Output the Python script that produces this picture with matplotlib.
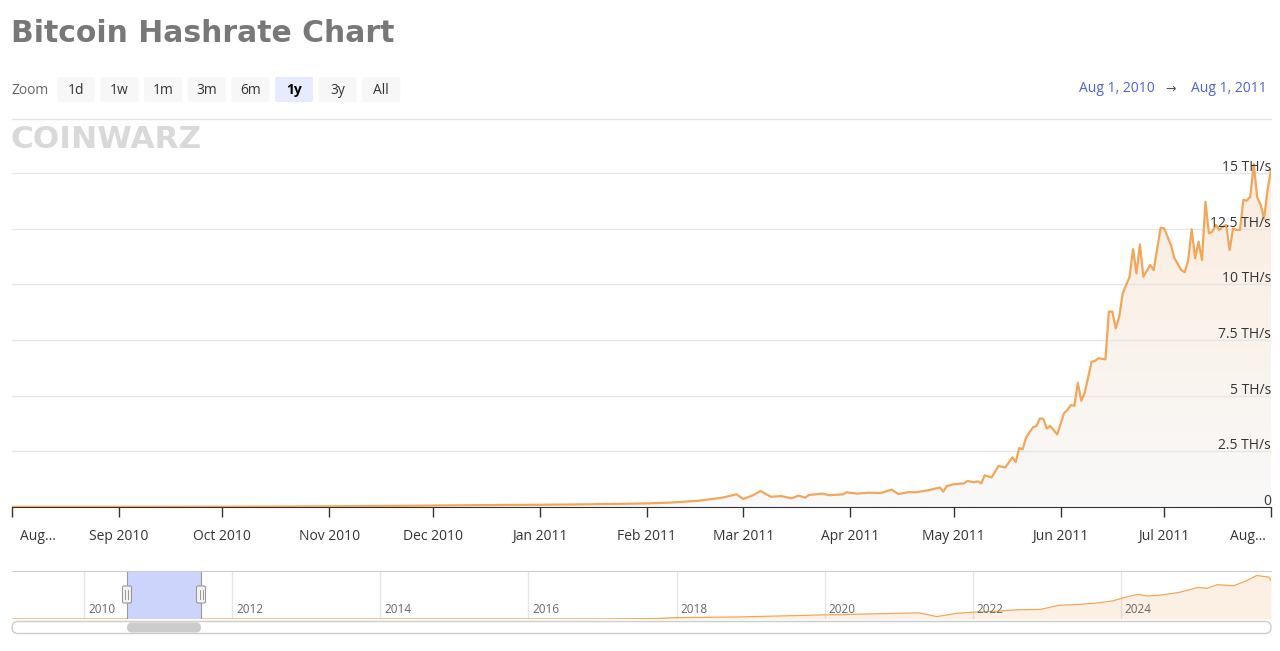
import numpy as np
import pandas as pd
import matplotlib
matplotlib.use("Agg")
import matplotlib.pyplot as plt
import matplotlib.dates as mdates
import matplotlib.transforms as mtransforms
from matplotlib.patches import FancyBboxPatch, PathPatch

W, H = 1280, 651

# hashrate in TH/s, 1y window
hash_dates = [
    "2010-08-01", "2010-08-15", "2010-09-01", "2010-09-15", "2010-10-01", "2010-10-15",
    "2010-11-01", "2010-11-15", "2010-12-01", "2010-12-15", "2011-01-01", "2011-01-15",
    "2011-02-01", "2011-02-08", "2011-02-16", "2011-02-23", "2011-02-27", "2011-03-01",
    "2011-03-04", "2011-03-06", "2011-03-09", "2011-03-12", "2011-03-15", "2011-03-17",
    "2011-03-19", "2011-03-20", "2011-03-24", "2011-03-26", "2011-03-30", "2011-03-31",
    "2011-04-03", "2011-04-06", "2011-04-10", "2011-04-13", "2011-04-15", "2011-04-18",
    "2011-04-20", "2011-04-24", "2011-04-27", "2011-04-28", "2011-04-29", "2011-05-01",
    "2011-05-04", "2011-05-05", "2011-05-07", "2011-05-08", "2011-05-09", "2011-05-10",
    "2011-05-12", "2011-05-14", "2011-05-16", "2011-05-18", "2011-05-19", "2011-05-20",
    "2011-05-21", "2011-05-22", "2011-05-24", "2011-05-25", "2011-05-26", "2011-05-27",
    "2011-05-28", "2011-05-29", "2011-05-31", "2011-06-02", "2011-06-03", "2011-06-04",
    "2011-06-05", "2011-06-06", "2011-06-07", "2011-06-08", "2011-06-10", "2011-06-11",
    "2011-06-12", "2011-06-14", "2011-06-15", "2011-06-16", "2011-06-17", "2011-06-18",
    "2011-06-19", "2011-06-21", "2011-06-22", "2011-06-23", "2011-06-24", "2011-06-25",
    "2011-06-27", "2011-06-28", "2011-06-30", "2011-07-01", "2011-07-03", "2011-07-04",
    "2011-07-06", "2011-07-07", "2011-07-08", "2011-07-09", "2011-07-10", "2011-07-11",
    "2011-07-12", "2011-07-13", "2011-07-14", "2011-07-15", "2011-07-16", "2011-07-17",
    "2011-07-18", "2011-07-19", "2011-07-20", "2011-07-21", "2011-07-22", "2011-07-23",
    "2011-07-24", "2011-07-25", "2011-07-26", "2011-07-27", "2011-07-28", "2011-07-29",
    "2011-07-30", "2011-07-31", "2011-08-01",
]
hash_vals = [
    0.004, 0.005, 0.007, 0.009, 0.012, 0.018,
    0.03, 0.045, 0.065, 0.085, 0.10, 0.12,
    0.16, 0.20, 0.28, 0.42, 0.57, 0.36,
    0.54, 0.72, 0.46, 0.49, 0.39, 0.51,
    0.42, 0.54, 0.60, 0.53, 0.57, 0.66,
    0.60, 0.64, 0.63, 0.78, 0.58, 0.67,
    0.66, 0.76, 0.88, 0.69, 0.94, 1.02,
    1.06, 1.17, 1.11, 1.15, 1.06, 1.42,
    1.33, 1.84, 1.78, 2.23, 2.02, 2.65,
    2.59, 3.13, 3.58, 3.64, 3.98, 3.95,
    3.52, 3.64, 3.26, 4.21, 4.36, 4.58,
    4.54, 5.58, 4.77, 5.13, 6.52, 6.56,
    6.68, 6.63, 8.77, 8.77, 8.02, 8.54,
    9.59, 10.34, 11.58, 10.49, 11.79, 10.34,
    10.87, 10.64, 12.54, 12.51, 11.76, 11.17,
    10.64, 10.54, 11.09, 12.47, 11.17, 11.91,
    11.09, 13.71, 12.29, 12.36, 12.66, 12.44,
    12.59, 12.66, 11.54, 12.51, 12.44, 12.44,
    13.79, 13.76, 13.93, 15.40, 13.90, 13.56,
    12.96, 14.23, 15.13,
]

# navigator: full history, EH/s
nav_dates = [
    "2009-01-11", "2011-01-01", "2013-01-01", "2014-01-01", "2015-01-01", "2016-01-01",
    "2017-01-01", "2017-10-01", "2018-01-01", "2018-11-10", "2019-06-01", "2020-01-01",
    "2020-06-20", "2021-01-15", "2021-04-10", "2021-07-08", "2021-10-15", "2022-01-10",
    "2022-05-01", "2022-08-15", "2022-12-01", "2023-03-01", "2023-06-10", "2023-09-10",
    "2023-11-20", "2024-01-15", "2024-03-25", "2024-05-10", "2024-07-01", "2024-08-20",
    "2024-10-10", "2024-12-01", "2025-01-15", "2025-03-01", "2025-04-20", "2025-06-01",
    "2025-07-10", "2025-08-10", "2025-09-05", "2025-10-05", "2025-11-01", "2025-12-01",
    "2025-12-31", "2026-01-10",
]
nav_vals = [
    0, 0.0001, 0.02, 0.01, 0.3, 0.8,
    2.5, 12, 36, 54, 80, 108,
    125, 150, 161, 62, 150, 179,
    205, 241, 250, 357, 380, 420,
    470, 554, 643, 600, 616, 650,
    688, 760, 821, 800, 893, 880,
    866, 930, 983, 1060, 1134, 1110,
    1089, 1000,
]

y_ticks = [0, 2.5, 5, 7.5, 10, 12.5, 15]
y_labels = ["0", "2.5 TH/s", "5 TH/s", "7.5 TH/s", "10 TH/s", "12.5 TH/s", "15 TH/s"]
month_ticks = ["2010-08-01", "2010-09-01", "2010-10-01", "2010-11-01", "2010-12-01",
               "2011-01-01", "2011-02-01", "2011-03-01", "2011-04-01", "2011-05-01",
               "2011-06-01", "2011-07-01", "2011-08-01"]
month_labels = ["Aug...", "Sep 2010", "Oct 2010", "Nov 2010", "Dec 2010", "Jan 2011",
                "Feb 2011", "Mar 2011", "Apr 2011", "May 2011", "Jun 2011", "Jul 2011", "Aug..."]
nav_years = ["2010", "2012", "2014", "2016", "2018", "2020", "2022", "2024"]
zoom_buttons = ["1d", "1w", "1m", "3m", "6m", "1y", "3y", "All"]
selected_button = "1y"
range_start, range_end = "2010-08-01", "2011-08-01"
nav_start, nav_end = "2009-01-11", "2026-01-10"

LINE = "#f2a65a"
BLUE = "#4a63d6"
plt.rcParams["font.family"] = ["Open Sans", "DejaVu Sans"]


def box(x0, y0, x1, y1):
    # pixel box (top-left origin) -> figure fraction
    return [x0 / W, 1 - y1 / H, (x1 - x0) / W, (y1 - y0) / H]


fig = plt.figure(figsize=(W / 100, H / 100), dpi=100)

# ---- main chart
ax = fig.add_axes(box(12, 160, 1271, 507))
xn = mdates.date2num(pd.to_datetime(hash_dates))
x0, x1 = mdates.date2num(pd.to_datetime([range_start, range_end]))
ymax = 15.58

fill = ax.fill_between(xn, hash_vals, 0, color="none", lw=0)
grad = np.linspace(0, 1, 256)[:, None, None]
top = np.array([251, 236, 222]) / 255
bot = np.array([249, 249, 249]) / 255
img = bot + (top - bot) * grad
im = ax.imshow(img, extent=[x0, x1, 0, ymax], origin="lower", aspect="auto", zorder=1)
clip = PathPatch(fill.get_paths()[0], transform=ax.transData, fc="none", ec="none")
ax.add_patch(clip)
im.set_clip_path(clip)
ax.plot(xn, hash_vals, color=LINE, lw=1.6, zorder=3, solid_joinstyle="round")

ax.set_xlim(x0, x1)
ax.set_ylim(0, ymax)
ax.set_axisbelow(False)
ax.set_xticks(mdates.date2num(pd.to_datetime(month_ticks)))
ax.set_xticklabels(month_labels)
ax.set_yticks(y_ticks)
ax.tick_params(axis="y", length=0, labelleft=False)
ax.tick_params(axis="x", length=7.2, width=1, color="#333333", pad=8.5,
               labelsize=10, labelcolor="#333333")
ax.grid(axis="y", color="#e6e6e6", lw=1)
for s in ["top", "right", "left"]:
    ax.spines[s].set_visible(False)
ax.spines["bottom"].set_color("#333333")

labs = ax.get_xticklabels()
labs[0].set_ha("left")
labs[0].set_transform(labs[0].get_transform() + mtransforms.ScaledTranslation(0.08, 0, fig.dpi_scale_trans))
labs[-1].set_ha("right")
labs[-1].set_transform(labs[-1].get_transform() + mtransforms.ScaledTranslation(-0.05, 0, fig.dpi_scale_trans))

lab_tf = mtransforms.offset_copy(
    mtransforms.blended_transform_factory(ax.transAxes, ax.transData), fig=fig, x=0, y=2, units="dots")
for v, t in zip(y_ticks, y_labels):
    ax.text(1.0, v, t, transform=lab_tf, ha="right", va="baseline", fontsize=10,
            color="#333333", zorder=4, clip_on=False)

# ---- navigator
nav = fig.add_axes(box(12, 571, 1271, 619))
nx = mdates.date2num(pd.to_datetime(nav_dates))
n0, n1 = mdates.date2num(pd.to_datetime([nav_start, nav_end]))
nav.fill_between(nx, nav_vals, 0, color=LINE, alpha=0.16, lw=0, zorder=1)
nav.plot(nx, nav_vals, color=LINE, lw=0.9, zorder=1.5)
nav.set_xlim(n0, n1)
nav.set_ylim(0, 1250)
nav.set_xticks([])
nav.set_yticks([])
for s in ["bottom", "right", "left"]:
    nav.spines[s].set_visible(False)
nav.spines["top"].set_color("#cccccc")
year_tf = mtransforms.offset_copy(
    mtransforms.blended_transform_factory(nav.transData, nav.transAxes), fig=fig, x=4, y=0, units="dots")
year_x = mdates.date2num(pd.to_datetime([f"{y}-01-01" for y in nav_years]))
for xv, y in zip(year_x, nav_years):
    nav.axvline(xv, color="#e6e6e6", lw=1, zorder=0)
    nav.text(xv, 0.2, y, transform=year_tf, fontsize=8.5, color="#666666", va="center")

s0, s1 = x0, x1
nav.axvspan(s0, s1, color="#cdd4fb", zorder=2, lw=0)
for sv in (s0, s1):
    nav.axvline(sv, color="#999999", lw=0.8, zorder=2.5)

# ---- page chrome in pixel coordinates
ui = fig.add_axes([0, 0, 1, 1])
ui.set_xlim(0, W)
ui.set_ylim(H, 0)
ui.axis("off")
ui.patch.set_visible(False)

ui.text(11, 34, "Bitcoin Hashrate Chart", fontsize=21.5, weight="bold", color="#787878",
        va="center", family="DejaVu Sans")
ui.text(12, 90, "Zoom", fontsize=10, color="#666666", va="center")
for i, b in enumerate(zoom_buttons):
    bx = 57 + i * 43.6
    sel = b == selected_button
    ui.add_patch(FancyBboxPatch((bx, 77), 38, 25, boxstyle="round,pad=0,rounding_size=2",
                                fc="#e6ebff" if sel else "#f7f7f7", ec="none"))
    ui.text(bx + 19, 90, b, ha="center", va="center", fontsize=10,
            color="#000000" if sel else "#333333", weight="bold" if sel else "normal")

d0, d1 = pd.to_datetime([range_start, range_end])
fmt = lambda d: f"{d:%b} {d.day}, {d.year}"
ui.text(1155, 89, fmt(d0), ha="right", va="center", fontsize=10, color=BLUE)
ui.text(1171, 89, "→", ha="center", va="center", fontsize=9, color="#555555")
ui.text(1267, 89, fmt(d1), ha="right", va="center", fontsize=10, color=BLUE)

ui.plot([12, 1271], [118.5, 118.5], color="#e6e6e6", lw=1)
ui.text(10, 140, "COINWARZ", fontsize=22.5, weight="heavy", color="#d9d9d9",
        va="center", family="DejaVu Sans")

# navigator handles and scrollbar
px0 = 12 + (s0 - n0) / (n1 - n0) * 1259
px1 = 12 + (s1 - n0) / (n1 - n0) * 1259
for sx in (px0, px1):
    ui.add_patch(FancyBboxPatch((sx - 4.5, 586), 9, 17, boxstyle="round,pad=0,rounding_size=1.5",
                                fc="#f2f2f2", ec="#999999", lw=0.8, zorder=5))
    for dx in (-1.5, 1.5):
        ui.plot([sx + dx, sx + dx], [590, 599], color="#999999", lw=0.7, zorder=6)

ui.add_patch(FancyBboxPatch((12, 621.5), 1259, 12, boxstyle="round,pad=0,rounding_size=6",
                            fc="white", ec="#cccccc", lw=1))
ui.add_patch(FancyBboxPatch((px0, 622.5), px1 - px0, 10, boxstyle="round,pad=0,rounding_size=5",
                            fc="#cccccc", ec="none"))

fig.savefig("out.png", dpi=100)
